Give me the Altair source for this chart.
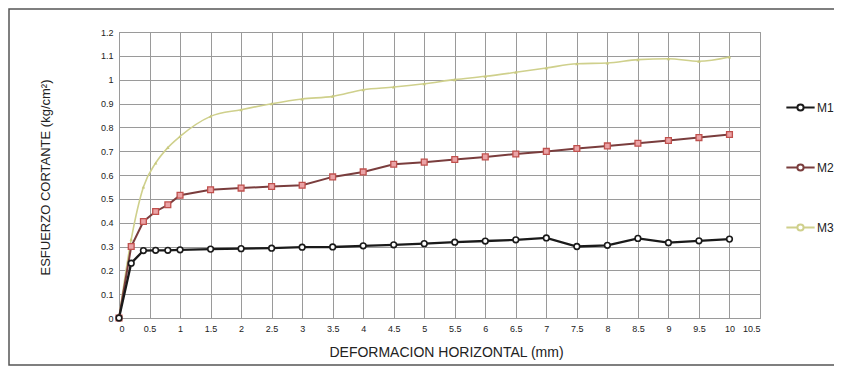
import altair as alt
import pandas as pd

# ---- data ----
deformacion = [0, 0.2, 0.4, 0.6, 0.8, 1, 1.5, 2, 2.5, 3, 3.5, 4, 4.5, 5, 5.5, 6,
               6.5, 7, 7.5, 8, 8.5, 9, 9.5, 10]
m1 = [0, 0.23, 0.283, 0.284, 0.284, 0.286, 0.289, 0.291, 0.293, 0.297, 0.298, 0.303,
      0.307, 0.312, 0.318, 0.323, 0.328, 0.336, 0.300, 0.305, 0.334, 0.316, 0.324, 0.331]
m2 = [0, 0.30, 0.405, 0.447, 0.475, 0.515, 0.538, 0.545, 0.552, 0.557, 0.592, 0.613,
      0.645, 0.654, 0.665, 0.676, 0.688, 0.699, 0.711, 0.722, 0.733, 0.745, 0.757, 0.770]
m3 = [0, 0.33, 0.55, 0.65, 0.715, 0.762, 0.846, 0.874, 0.899, 0.919, 0.93, 0.958,
      0.969, 0.983, 1.0, 1.014, 1.031, 1.049, 1.067, 1.07, 1.084, 1.088, 1.077, 1.095]
series_names = ["M1", "M2", "M3"]
x_ticks = [i * 0.5 for i in range(22)]
y_ticks = [round(i * 0.1, 1) for i in range(13)]

line_colors = ["#1a1a1a", "#7a3d3d", "#cfd08c"]

rows = []
for name, vals in zip(series_names, [m1, m2, m3]):
    for xv, yv in zip(deformacion, vals):
        rows.append({"x": xv, "y": yv, "series": name})
df = pd.DataFrame(rows)

FONT = "Liberation Sans"
legend_path = ("M-1,0L-0.22,0M0.22,0L1,0"
               "M-0.22,0A0.22,0.22 0 1,0 0.22,0A0.22,0.22 0 1,0 -0.22,0")

xenc = alt.X("x:Q", scale=alt.Scale(domain=[0, 10.5], nice=False),
             axis=alt.Axis(values=x_ticks, format="~g",
                           title="DEFORMACION HORIZONTAL (mm)",
                           titleX=327, titleY=34, titleBaseline="middle",
                           titleFontSize=14, titleFontWeight="normal"))
yenc = alt.Y("y:Q", scale=alt.Scale(domain=[0, 1.2], nice=False),
             axis=alt.Axis(values=y_ticks, format="~g",
                           title="ESFUERZO CORTANTE (kg/cm²)",
                           titleX=-74, titleY=145, titleAngle=-90,
                           titleAlign="center", titleBaseline="middle",
                           titleFontSize=13, titleFontWeight="normal"))
cenc = alt.Color("series:N",
                 scale=alt.Scale(domain=series_names, range=line_colors),
                 legend=alt.Legend(title=None, orient="none", legendX=666, legendY=60,
                                   symbolType=legend_path, symbolSize=800,
                                   symbolStrokeWidth=2, symbolFillColor="white",
                                   labelFontSize=12, labelFont=FONT, labelColor="#222",
                                   labelOffset=1, rowPadding=37))

base = alt.Chart(df)

line1 = base.transform_filter("datum.series == 'M1'").mark_line(strokeWidth=2.3).encode(
    x=xenc, y=yenc, color=cenc)
line2 = base.transform_filter("datum.series == 'M2'").mark_line(strokeWidth=2).encode(
    x=xenc, y=yenc, color=cenc)
line3 = base.transform_filter("datum.series == 'M3'").mark_line(
    strokeWidth=1.6, interpolate="monotone").encode(x=xenc, y=yenc, color=cenc)

pts1 = base.transform_filter("datum.series == 'M1'").mark_point(
    shape="circle", filled=True, fill="white", stroke="#1a1a1a", strokeWidth=1.6,
    size=32, opacity=1).encode(x=xenc, y=yenc)
pts2 = base.transform_filter("datum.series == 'M2'").mark_point(
    shape="square", filled=True, fill="#eaa3a6", stroke="#c0504d", strokeWidth=1.3,
    size=34, opacity=1).encode(x=xenc, y=yenc)
pts3 = base.transform_filter("datum.series == 'M3'").mark_point(
    shape="triangle-up", filled=True, fill="#c8c97e", size=12, opacity=1).encode(
    x=xenc, y=yenc)

frame = alt.Chart(alt.Data(values=[{}])).mark_rect(
    filled=False, stroke="#555555", strokeWidth=1.5).encode(
    x=alt.value(-110), x2=alt.value(740), y=alt.value(-23), y2=alt.value(333))

chart = alt.layer(frame, line3, line2, line1, pts3, pts2, pts1).properties(
    width=641, height=286,
    autosize=alt.AutoSizeParams(type="none"),
    padding={"left": 111, "top": 24, "right": 74, "bottom": 48},
    background="white",
).configure_axis(
    grid=True, gridColor="#9a9a9a", gridWidth=1, domain=False, ticks=False,
    labelFont=FONT, labelFontSize=9, labelColor="#222", labelPadding=6,
    titleFont=FONT, titleColor="#222",
).configure_view(stroke="#888888", strokeWidth=1)

chart.save("out.html", embed_options={"renderer": "svg", "actions": False})
